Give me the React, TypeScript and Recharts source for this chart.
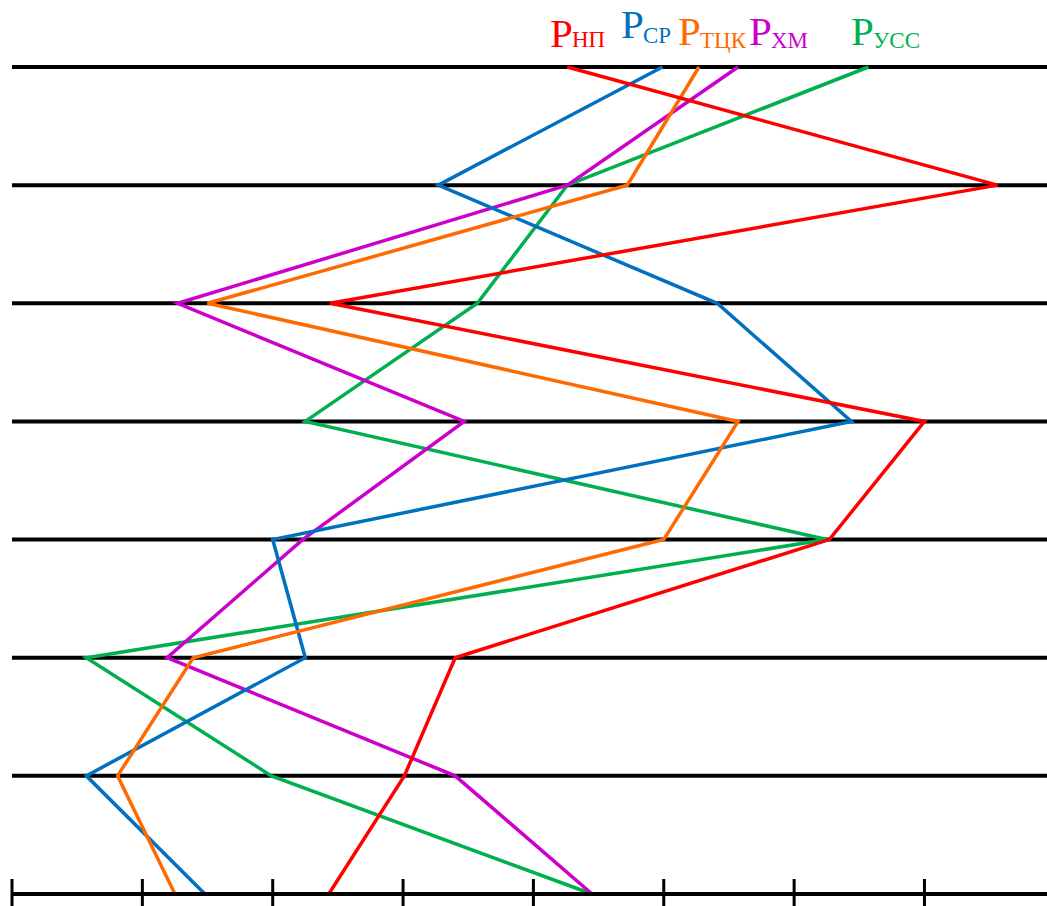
import { LineChart, Line, XAxis, YAxis, CartesianGrid } from 'recharts';

// 8 levels, top (0) to bottom (7)
const LEVELS = [0, 1, 2, 3, 4, 5, 6, 7];
const X_TICKS = [0, 1, 2, 3, 4, 5, 6, 7];

const P_NP = [4.26, 7.56, 2.44, 7.0, 6.27, 3.4, 3.01, 2.43];
const P_SR = [4.99, 3.27, 5.41, 6.44, 2.0, 2.25, 0.57, 1.48];
const P_TCK = [5.27, 4.72, 1.5, 5.57, 5.0, 1.39, 0.81, 1.25];
const P_HM = [5.57, 4.26, 1.27, 3.47, 2.23, 1.19, 3.4, 4.45];
const P_USS = [6.57, 4.26, 3.57, 2.25, 6.25, 0.57, 1.99, 4.45];

const data = LEVELS.map((level, i) => ({
  level,
  np: P_NP[i],
  sr: P_SR[i],
  tck: P_TCK[i],
  hm: P_HM[i],
  uss: P_USS[i],
}));

const RED = '#ff0000';
const BLUE = '#0070c0';
const ORANGE = '#ff6a00';
const MAGENTA = '#cc00cc';
const GREEN = '#00b050';

// legend: colour, subscript, and where the label sits
const LEGEND = [
  { color: RED, sub: 'НП', x: 550, y: 47, dy: 0 },
  { color: BLUE, sub: 'СР', x: 621, y: 38, dy: 5 },
  { color: ORANGE, sub: 'ТЦК', x: 678, y: 45, dy: 3 },
  { color: MAGENTA, sub: 'ХМ', x: 749, y: 45, dy: 3 },
  { color: GREEN, sub: 'УСС', x: 851, y: 45, dy: 3 },
];

const TickMark = (props: any) => {
  const { x, y } = props;
  return <line x1={x} x2={x} y1={y - 15} y2={y + 12} stroke="#000" strokeWidth={3} />;
};

export default function App() {
  return (
    <div style={{ position: 'absolute', left: 0, top: 0, width: 1047, height: 906 }}>
      <LineChart
        width={1047}
        height={906}
        data={data}
        layout="vertical"
        margin={{ top: 67, right: 0, bottom: 0, left: 12 }}
      >
        <CartesianGrid vertical={false} stroke="#000" strokeWidth={4} />
        <XAxis
          type="number"
          domain={[0, 7.94]}
          ticks={X_TICKS}
          allowDataOverflow
          height={12}
          tickSize={0}
          tickMargin={0}
          tickLine={false}
          tick={<TickMark />}
          axisLine={{ stroke: '#000', strokeWidth: 4 }}
        />
        <YAxis type="number" dataKey="level" domain={[0, 7]} ticks={LEVELS} hide />
        <Line dataKey="uss" stroke={GREEN} strokeWidth={3.5} dot={false} isAnimationActive={false} />
        <Line dataKey="hm" stroke={MAGENTA} strokeWidth={3.5} dot={false} isAnimationActive={false} />
        <Line dataKey="sr" stroke={BLUE} strokeWidth={3.5} dot={false} isAnimationActive={false} />
        <Line dataKey="tck" stroke={ORANGE} strokeWidth={3.5} dot={false} isAnimationActive={false} />
        <Line dataKey="np" stroke={RED} strokeWidth={3.5} dot={false} isAnimationActive={false} />
      </LineChart>
      <svg
        width={1047}
        height={60}
        style={{ position: 'absolute', left: 0, top: 0, pointerEvents: 'none' }}
      >
        {LEGEND.map((l) => (
          <g key={l.sub} fill={l.color} fontFamily="'Liberation Serif', 'Times New Roman', serif">
            <text x={l.x} y={l.y} fontSize={41}>P</text>
            <text x={l.x + 22} y={l.y + l.dy} fontSize={23}>{l.sub}</text>
          </g>
        ))}
      </svg>
    </div>
  );
}
